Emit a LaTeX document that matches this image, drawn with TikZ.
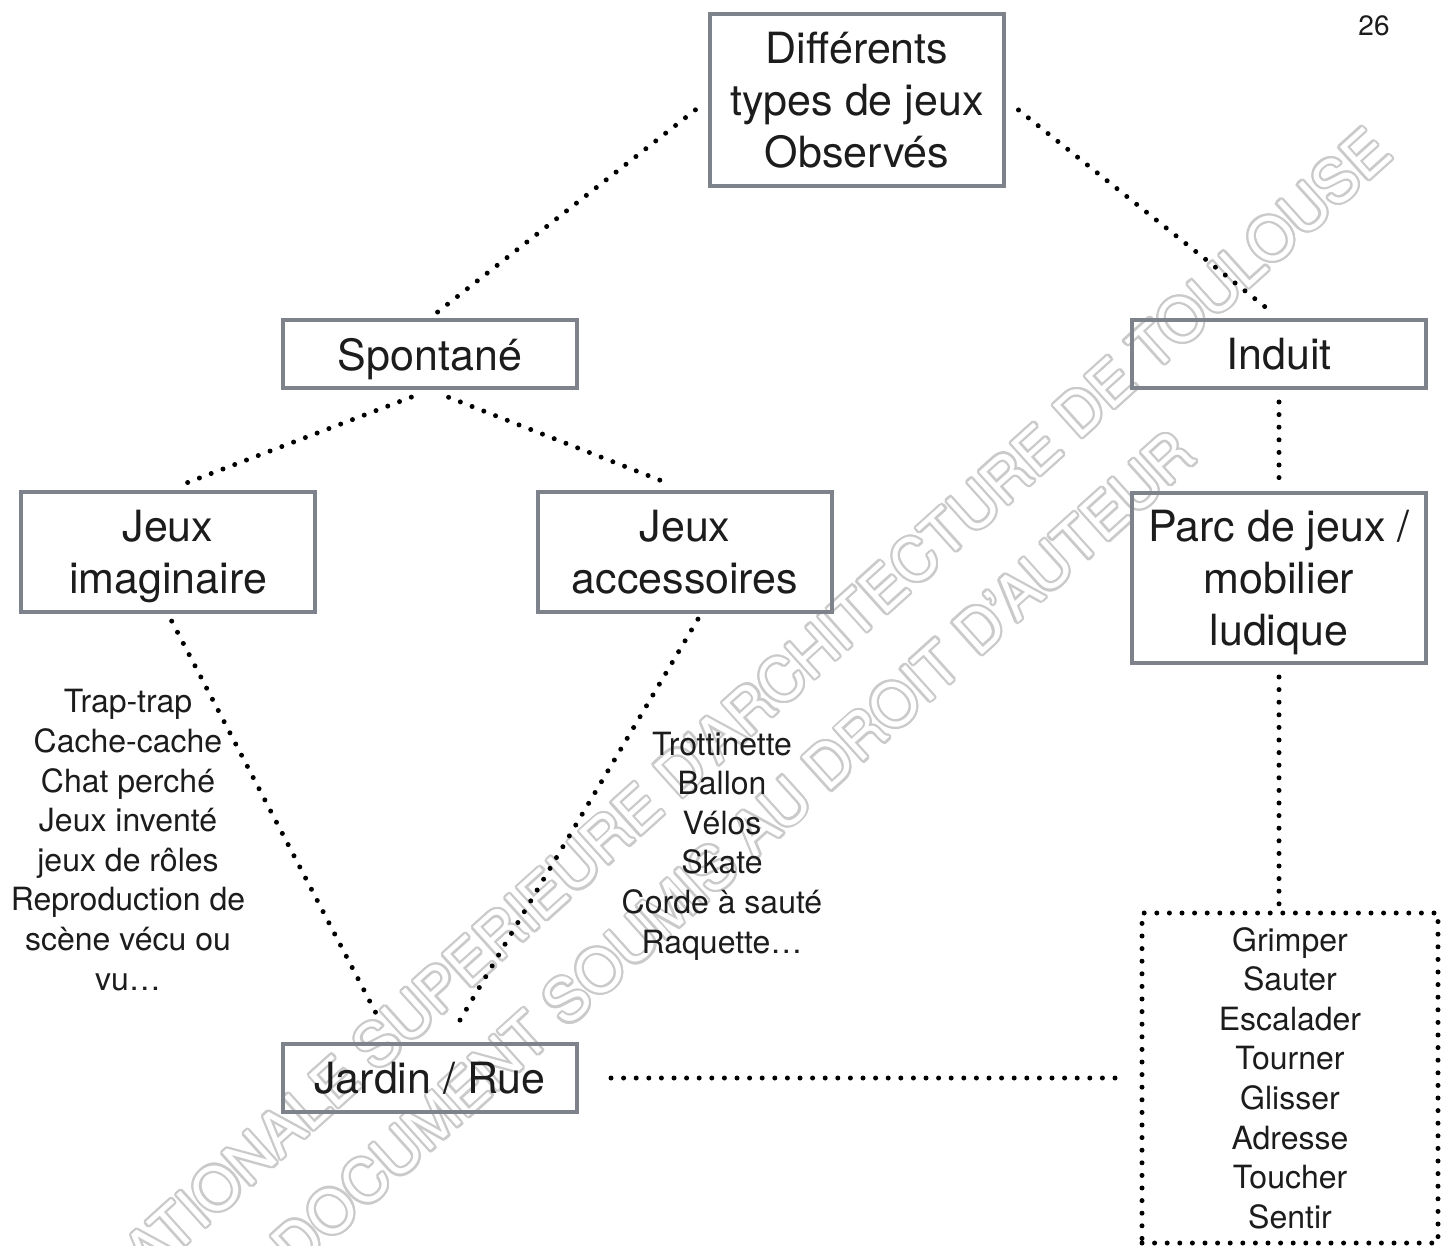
\documentclass[tikz,border=0pt]{standalone}
\usepackage{fontspec}
\setmainfont{TeX Gyre Heros}
\usepackage{contour}
\usetikzlibrary{calc}

\definecolor{boxgray}{HTML}{7E828A}
\definecolor{inkblack}{HTML}{1C1C1C}
\definecolor{markgray}{HTML}{CACACA}
\contourlength{1.1pt}
\contournumber{16}

\begin{document}
\begin{tikzpicture}[x=0.5pt, y=-0.5pt,
	jeubox/.style={draw=boxgray, line width=2pt, minimum width=147pt, inner sep=0pt, align=center, text depth=0pt, text=inkblack, font=\fontsize{21.5}{26}\selectfont},
	liste/.style={align=center, text=inkblack, font=\fontsize{16}{19.8}\selectfont},
	pointille/.style={draw=black, line width=2.5pt, line cap=round, dash pattern=on 0pt off 6.3pt}]
	\useasboundingbox (0,0) rectangle (1448,1246);
	\clip (0,0) rectangle (1448,1246);

	%filigrane
	\node[rotate=42, anchor=base east, font=\fontsize{30}{30}\selectfont] (filigraneA) at (1400,152) {\contour{markgray}{\textcolor{white}{ECOLE NATIONALE SUPERIEURE D'ARCHITECTURE DE TOULOUSE}}};
	\node[rotate=42, anchor=base east, font=\fontsize{30}{30}\selectfont] (filigraneB) at (1204,455) {\contour{markgray}{\textcolor{white}{DOCUMENT SOUMIS AU DROIT D'AUTEUR}}};

	%boxes
	\node[jeubox, minimum height=86pt] (types) at (857,100) {Différents\\types de jeux\\Observés};
	\node[jeubox, minimum height=34pt] (spontane) at (430,354) {Spontané};
	\node[jeubox, minimum height=34pt] (induit) at (1279,354) {Induit};
	\node[jeubox, minimum height=60pt] (imaginaire) at (168,552) {Jeux\\imaginaire};
	\node[jeubox, minimum height=60pt] (accessoires) at (685,552) {Jeux\\accessoires};
	\node[jeubox, minimum height=85pt] (parc) at (1279,578) {Parc de jeux /\\mobilier\\ludique};
	\node[jeubox, minimum height=34pt] (jardin) at (430,1078) {Jardin / Rue};

	%lists
	\node[liste] (exemples) at (128,840) {Trap-trap\\Cache-cache\\Chat perché\\Jeux inventé\\jeux de rôles\\Reproduction de\\scène vécu ou\\vu…};
	\node[liste] (objets) at (722,846) {Trottinette\\Ballon\\Vélos\\Skate\\Corde à sauté\\Raquette…};
	\node[pointille, liste, minimum width=148pt, minimum height=165pt] (gestes) at (1290,1078) {Grimper\\Sauter\\Escalader\\Tourner\\Glisser\\Adresse\\Toucher\\Sentir};

	\node[text=inkblack, font=\fontsize{14}{14}\selectfont] (page) at (1374,26) {26};

	%links
	\draw[pointille, shorten <=8pt, shorten >=4pt] (types.west) -- (spontane.north);
	\draw[pointille, shorten <=8pt, shorten >=4pt] (types.east) -- (induit.north);
	\draw[pointille, shorten <=10pt, shorten >=8pt] (spontane.south) -- (imaginaire.north);
	\draw[pointille, shorten <=10pt, shorten >=12pt] (spontane.south) -- (accessoires.north);
	\draw[pointille, shorten <=6pt, shorten >=2pt] (induit.south) -- (parc.north);
	\draw[pointille, shorten <=4pt, shorten >=16pt] (imaginaire.south) -- ($(jardin.north)+(-39,0)$);
	\draw[pointille, shorten <=3pt, shorten >=9pt] ($(accessoires.south)+(16,0)$) -- ($(jardin.north)+(17,0)$);
	\draw[pointille, shorten <=6pt] (parc.south) -- (parc.south |- gestes.north);
	\draw[pointille, shorten <=16pt, shorten >=12pt] (jardin.east) -- (jardin.east -| gestes.west);
\end{tikzpicture}
\end{document}
